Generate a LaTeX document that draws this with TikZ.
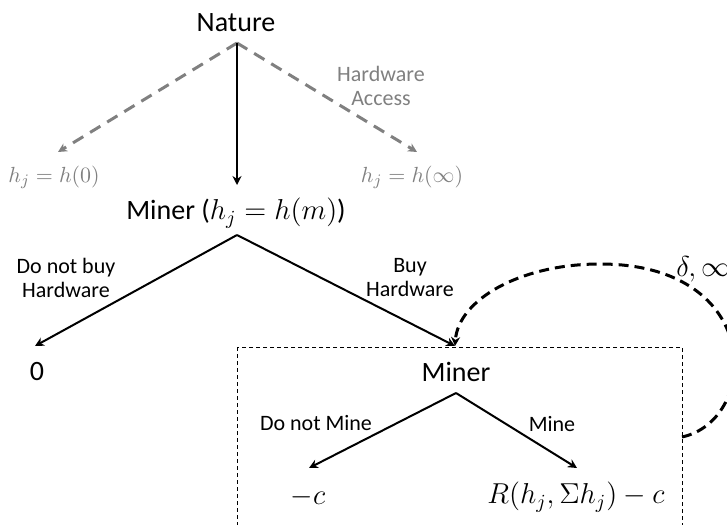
\documentclass[tikz,border=0pt]{standalone}
\usepackage{fontspec}
\setmainfont{Carlito}
\usetikzlibrary{arrows.meta}
\definecolor{natgray}{RGB}{128,128,128}

\begin{document}
\begin{tikzpicture}[
    x=0.5pt, y=-0.5pt,
    >={Stealth[length=4.5pt,width=4.5pt]},
    player/.style={
        font=\fontsize{14}{16}\selectfont,
        inner sep=0pt,
    },
    payoff/.style={
        font=\fontsize{14}{16}\selectfont,
        inner sep=0pt,
    },
    move/.style={
        ->,
        line width=1pt,
    },
    move label/.style={
        font=\fontsize{11}{12}\selectfont,
        align=center,
        inner sep=0pt,
    },
    chance/.style={
        ->,
        natgray,
        line width=1.5pt,
        dash pattern=on 6pt off 4pt,
    },
    chance label/.style={
        move label,
        text=natgray,
    },
]
\clip (0,0) rectangle (727,524);

% --- Stage 0: Nature draws the hardware access ---
\node[player] (nature) at (236,23) {Nature};
\coordinate (nature-tip) at (237,43);

\node[chance label] (h0) at (54,177) {$h_j = h(0)$};
\node[chance label] (hinf) at (412,177) {$h_j = h(\infty)$};
\node[chance label] (access) at (381,86) {Hardware\\Access};

\coordinate (h0-end) at (58,152);
\coordinate (hinf-end) at (417,152);
\draw[chance] (nature-tip) -- (h0-end);
\draw[chance] (nature-tip) -- (hinf-end);

% --- Stage 1: buy hardware or not ---
\node[player] (buyer) at (236,213) {Miner ($h_j = h(m)$)};
\coordinate (buyer-tip) at (237,235);
\draw[move] (nature-tip) -- (237,185) coordinate (buyer-top);

\node[payoff] (zero) at (37,372) {0};
\coordinate (zero-end) at (35,346);
\coordinate (box-end) at (455,346);
\draw[move] (buyer-tip) -- (zero-end);
\draw[move] (buyer-tip) -- (box-end);

\node[move label] (nobuy) at (66,278) {Do not buy\\Hardware};
\node[move label] (buy) at (410,278) {Buy\\Hardware};

% --- Stage 2: repeated mining game (dashed box) ---
\draw[line width=0.5pt, dash pattern=on 2pt off 1.5pt]
    (237,347) rectangle (682,540);
\coordinate (box-east) at (682,437);

\node[player] (miner) at (456,372) {Miner};
\coordinate (miner-tip) at (456,393);

\coordinate (nomine-end) at (309,468);
\coordinate (mine-end) at (577,468);
\draw[move] (miner-tip) -- (nomine-end);
\draw[move] (miner-tip) -- (mine-end);

\node[move label] (nomine) at (316,423) {Do not Mine};
\node[move label] (mine) at (552,424) {Mine};

\node[payoff] (cost) at (308,497) {$-c$};
\node[payoff] (reward) at (576,497) {$R\bigl(h_j, \Sigma h_j\bigr) - c$};

% Loop back with discount
\draw[->, line width=1.5pt, dash pattern=on 5pt off 3pt]
    (box-east) .. controls (760,420) and (765,264) .. (600,264)
    .. controls (520,264) and (458,300) .. (box-end);
\node[payoff, anchor=west] (discount) at (676,269) {$\delta, \infty$};

\end{tikzpicture}
\end{document}
